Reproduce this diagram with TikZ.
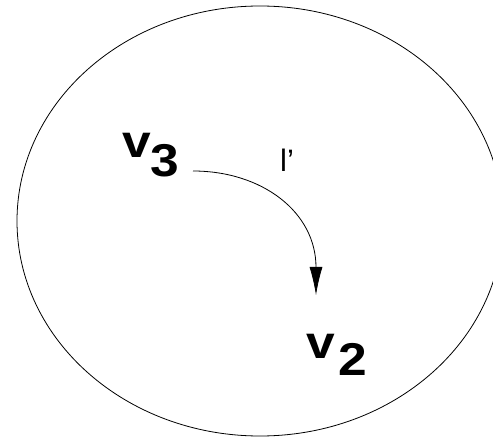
\documentclass[tikz,border=0pt]{standalone}
\usepackage{fontspec}
\setmainfont{Liberation Sans}
\usetikzlibrary{arrows.meta}
\newcommand{\vfont}{\fontsize{46pt}{52pt}\selectfont\bfseries}
\newcommand{\lfont}{\fontsize{31pt}{35pt}\selectfont}
\newcommand{\widen}[1]{\scalebox{1.12}[1]{#1}}

\begin{document}
\begin{tikzpicture}[x=1pt,y=1pt,>={Latex[length=28pt,width=13pt]}]
      \tikzset{vert/.style={inner sep=0pt,anchor=base west,font=\vfont},
        lbl/.style={inner sep=0pt,anchor=base west,font=\lfont}}
      \useasboundingbox[clip] (0,0) rectangle (493,437);
      \draw[line width=0.8pt] (260,216) ellipse[x radius=243,y radius=215];
      \node[vert] (vthree) at (122,279) {\widen{v\lower19pt\hbox{3}}};
      \node[vert] (vtwo) at (306,78) {\widen{v\kern3pt\lower16pt\hbox{2}}};
      \node[lbl] (lprime) at (280,265) {l’};
      \coordinate (lstart) at (193,266);
      \coordinate (lend) at (316,142);
      \draw[->,line width=0.8pt] (lstart)
        .. controls (262,266) and (316,225) .. (lend);
    \end{tikzpicture}
\end{document}
